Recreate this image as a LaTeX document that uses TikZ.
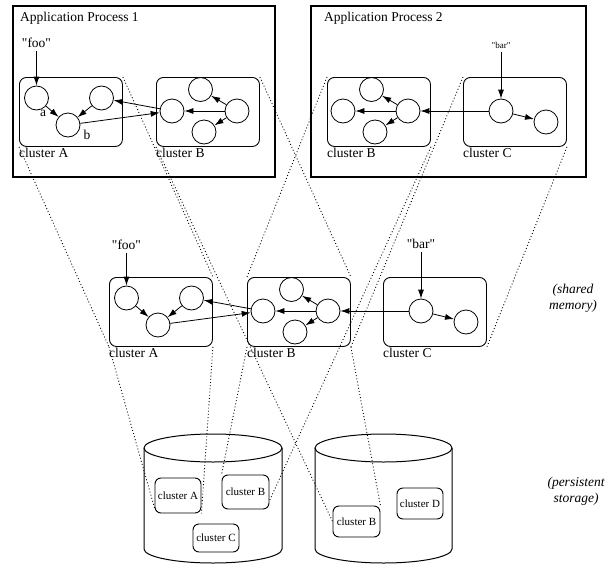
\documentclass[tikz,border=0pt]{standalone}
\usepackage{fontspec}
\setmainfont{Liberation Serif}
\usetikzlibrary{arrows.meta,calc}
\newcommand\qt{\textquotedbl}

\begin{document}
\begin{tikzpicture}[x=1pt,y=-1pt,
  font=\fontsize{13.5}{15}\selectfont,
  proc/.style={draw, line width=2.4pt, inner sep=0pt, anchor=north west},
  clbox/.style={draw, rounded corners=7pt, line width=0.9pt, inner sep=0pt,
                minimum width=103pt, minimum height=69pt, anchor=north west},
  st/.style={circle, draw, line width=0.8pt, minimum size=24pt, inner sep=0pt},
  tr/.style={-{Latex[length=9pt,width=6pt]}, line width=0.8pt},
  proj/.style={line width=0.9pt, dash pattern=on 0.9pt off 2.3pt},
  lbl/.style={anchor=base west, inner sep=0pt},
  store/.style={draw, rounded corners=6pt, line width=0.9pt, inner sep=0pt,
                font=\fontsize{11}{13}\selectfont},
  side/.style={align=center, font=\itshape\fontsize{13.5}{16}\selectfont},
  cyl/.style={line width=1pt},
  pics/clA/.style={code={
    \node[clbox] (-box) at (0,0) {};
    \node[st] (-c1) at (17.5,21) {};
    \node[st] (-c2) at (82.5,21) {};
    \node[st] (-c3) at (49,48) {};
    \draw[tr] (-c1) -- (-c3);
    \draw[tr] (-c2) -- (-c3);
    \node[lbl] (-name) at (0,80) {cluster A};
  }},
  pics/clB/.style={code={
    \node[clbox] (-box) at (0,0) {};
    \node[st] (-l) at (16,34) {};
    \node[st] (-t) at (44.5,12.5) {};
    \node[st] (-r) at (81,34) {};
    \node[st] (-b) at (48,55) {};
    \draw[tr] (-r) -- (-l);
    \draw[tr] (-r) -- (-t);
    \draw[tr] (-r) -- (-b);
    \node[lbl] (-name) at (0,80) {cluster B};
  }},
  pics/clC/.style={code={
    \node[clbox] (-box) at (0,0) {};
    \node[st] (-l) at (38,34) {};
    \node[st] (-r) at (83,45) {};
    \draw[tr] (-l) -- (-r);
    \node[lbl] (-name) at (0,80) {cluster C};
  }},
]
\useasboundingbox (0,0) rectangle (608,565);

% application processes
\node[proc, minimum width=262pt, minimum height=170.5pt] (p1) at (12,5) {};
\node[proc, minimum width=274.5pt, minimum height=170.5pt] (p2) at (310,5) {};
\node[lbl] (p1t) at (20,21) {Application Process 1};
\node[lbl] (p2t) at (324,21) {Application Process 2};

\pic (ta) at (19,77) {clA};
\pic (tb) at (156,77) {clB};
\pic (ub) at (327,77) {clB};
\pic (uc) at (463,77) {clC};

\node (foo1) at (36.5,43) {\qt foo\qt};
\node[font=\fontsize{9}{11}\selectfont] (bar1) at (501,45) {\qt bar\qt};
\draw[tr] (foo1) -- (ta-c1);
\draw[tr] (bar1) -- (uc-l);
\node (la) at (43,113) {a};
\node (lb) at (87,135) {b};
\draw[tr] (ta-c3) -- (tb-l);
\draw[tr] (tb-l) -- (ta-c2);
\draw[tr] (uc-l) -- (ub-r);

% shared memory
\pic (ma) at (109,277) {clA};
\pic (mb) at (247,277) {clB};
\pic (mc) at (383,277) {clC};

\node (foo2) at (126.5,245) {\qt foo\qt};
\node (bar2) at (421,244) {\qt bar\qt};
\draw[tr] (foo2) -- (ma-c1);
\draw[tr] (bar2) -- (mc-l);
\draw[tr] (ma-c3) -- (mb-l);
\draw[tr] (mb-l) -- (ma-c2);
\draw[tr] (mc-l) -- (mb-r);

% persistent storage
\draw[cyl] (213,448) ellipse[x radius=69pt, y radius=14pt];
\draw[cyl] (144,448) -- (144,549) arc[start angle=180, end angle=360, x radius=69pt, y radius=14pt] -- (282,448);
\draw[cyl] (383.5,448) ellipse[x radius=68.5pt, y radius=14pt];
\draw[cyl] (315,448) -- (315,549) arc[start angle=180, end angle=360, x radius=68.5pt, y radius=14pt] -- (452,448);

\node[store, minimum width=46pt, minimum height=35pt] (sa) at (178,495.5) {cluster A};
\node[store, minimum width=47pt, minimum height=34pt] (sb) at (245.5,492) {cluster B};
\node[store, minimum width=46pt, minimum height=28pt] (sc) at (216,538) {cluster C};
\node[store, minimum width=47pt, minimum height=31pt] (sb2) at (356.5,521.5) {cluster B};
\node[store, minimum width=46pt, minimum height=31pt] (sd) at (420,503.5) {cluster D};

% projections between levels
\draw[proj] (ta-box.south west) -- (ma-box.south west);
\draw[proj] (ta-box.north east) -- (ma-box.north east);
\draw[proj] (tb-box.south west) -- (sb2.west);
\draw[proj] (tb-box.north east) -- (mb-box.north east);
\draw[proj] (ub-box.north west) -- (mb-box.north west);
\draw[proj] (ub-box.south east) -- ($(sb.east)!0.5!(sb.south east)$);
\draw[proj] (uc-box.north west) -- (mb-box.south east);
\draw[proj] (uc-box.south east) -- (mc-box.south east);
\draw[proj] (ma-box.south west) -- ($(sa.south west)!0.15!(sa.north west)$);
\draw[proj] (ma-box.south east) -- (sa.south east);
\draw[proj] (mb-box.south west) -- (sb.north west);
\draw[proj] (mb-box.south east) -- (sb2.north east);

\node[side] (sm) at (573,298) {(shared\\memory)};
\node[side] (ps) at (576,491) {(persistent\\storage)};
\end{tikzpicture}
\end{document}
